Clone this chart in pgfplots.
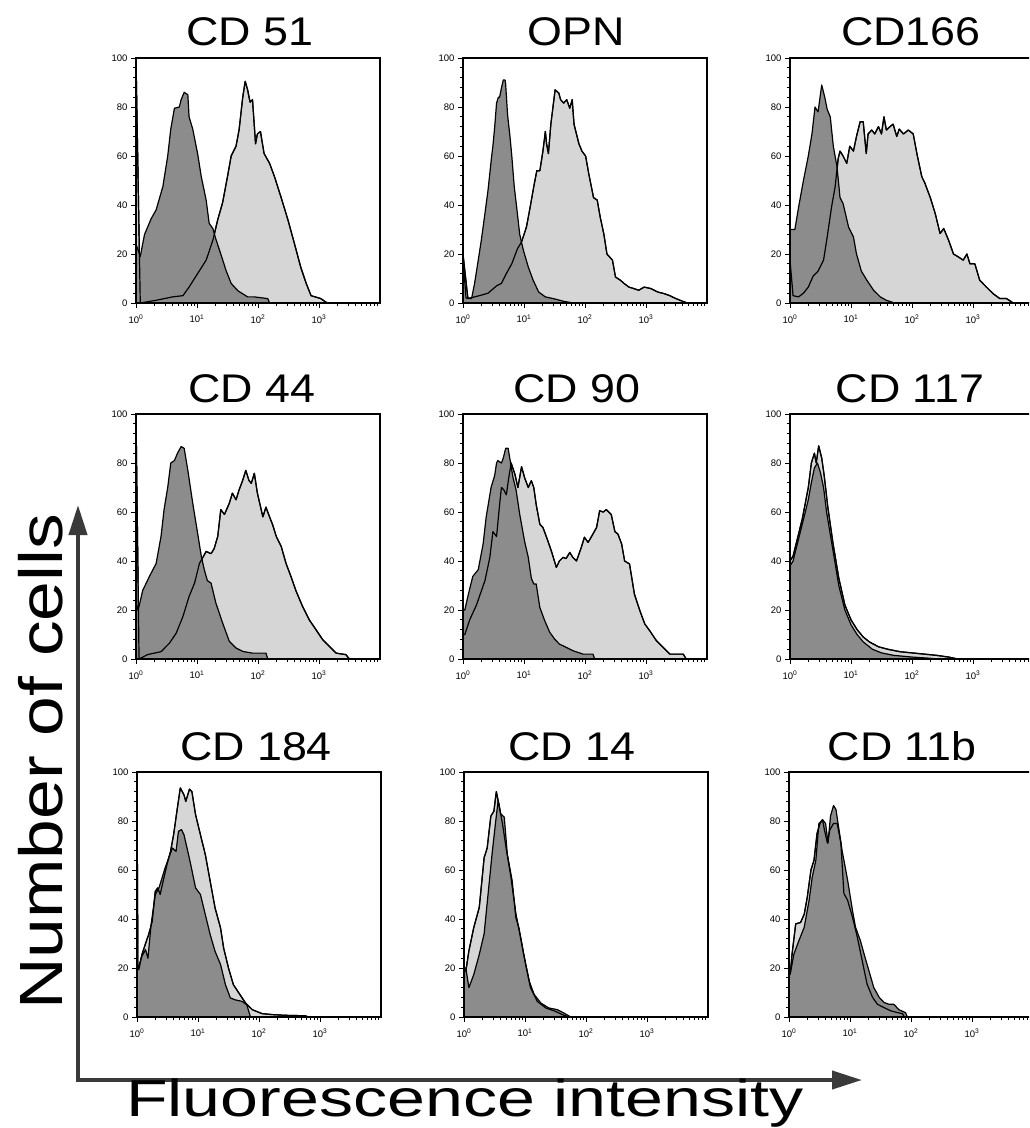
\documentclass[border=0pt]{standalone}
\usepackage{pgfplots}
\pgfplotsset{compat=1.18}
\usepackage{pgfplotstable}
\usepackage{graphicx}
\usepackage{fontspec}
\setmainfont{Liberation Sans}
\usetikzlibrary{arrows.meta}

\definecolor{isofill}{RGB}{140,140,140}
\definecolor{abfill}{RGB}{214,214,214}
\definecolor{arrowgray}{RGB}{58,58,58}

% x: log10 of fluorescence intensity (decades), y: number of cells
\pgfplotstableread{
d y
0 24
0.07 19
0.14 28
0.25 34.5
0.33 38
0.44 47.5
0.52 60
0.57 71
0.63 79.5
0.71 80
0.74 83
0.79 86
0.85 85
0.87 76
0.93 71
1.01 61
1.07 51.6
1.15 42
1.20 32.5
1.26 30.4
1.31 26
1.39 20
1.48 13
1.56 8
1.67 5
1.83 2.5
1.94 2.5
2.16 1.8
2.19 0
}\cdAiso
\pgfplotstableread{
d y
0 100
0.07 0
0.33 1.1
0.60 2.5
0.77 3
0.87 6.5
1.01 12
1.15 17.5
1.26 25.6
1.34 34
1.42 41
1.50 51.6
1.56 60
1.64 64
1.69 70.7
1.75 84
1.79 90.5
1.83 87
1.87 82
1.91 83
1.96 65
1.99 69
2.04 70
2.10 61
2.19 57
2.27 51.6
2.38 43
2.49 34
2.60 24
2.70 14.7
2.79 8
2.87 3
3.03 1.8
3.11 0.4
3.15 0
}\cdAab
\pgfplotstableread{
d y
0 18
0.05 2
0.14 1.8
0.19 8
0.25 17.5
0.30 25.6
0.36 36.6
0.41 46
0.47 60
0.49 64
0.52 72
0.55 81.6
0.58 84
0.60 84
0.63 87.7
0.66 91
0.69 91
0.70 89
0.73 77
0.77 68
0.80 60
0.84 47.5
0.88 39
0.93 28
0.99 21.5
1.07 14.7
1.15 9.3
1.24 4.5
1.35 2.5
1.48 1.8
1.65 0.7
1.81 0
}\cdBiso
\pgfplotstableread{
d y
0 20
0.08 1.8
0.27 3
0.41 4
0.55 7
0.63 8
0.71 12
0.80 16
0.89 22
0.96 25
1.04 31
1.10 39
1.16 47.5
1.21 54
1.26 54
1.31 62
1.35 70
1.37 65
1.40 61
1.44 73
1.47 79
1.51 87
1.57 85.7
1.60 83
1.65 81.6
1.70 83
1.75 79.5
1.79 83
1.82 73
1.90 65
1.95 62
2.01 60
2.06 53
2.14 43
2.20 42
2.25 35
2.31 28
2.36 20
2.45 17.5
2.50 10.6
2.58 9.3
2.64 8
2.72 6.5
2.80 5.9
2.88 5.2
2.97 6.5
3.08 5.9
3.19 4.5
3.30 3.8
3.38 3.1
3.49 1.8
3.60 0.7
3.68 0
}\cdBab
\pgfplotstableread{
d y
0 30
0.08 30
0.14 39
0.22 50
0.30 60
0.36 69
0.41 80
0.46 78
0.52 89
0.57 84
0.61 79
0.66 76
0.71 64
0.77 55.7
0.82 43
0.87 40.6
0.96 31
1.04 27
1.09 20
1.17 13
1.26 9.3
1.37 5.2
1.48 2.5
1.58 1.1
1.67 0.4
1.70 0
}\cdCiso
\pgfplotstableread{
d y
0 17.5
0.05 3
0.14 2.5
0.22 4
0.30 6.5
0.38 11
0.46 13
0.55 17.5
0.61 27
0.68 39
0.74 47.5
0.79 59
0.82 62
0.87 60
0.93 57
0.98 64
1.04 62
1.09 68
1.15 74
1.20 74
1.25 61
1.28 69
1.34 70.6
1.39 69
1.45 72
1.50 69
1.54 76
1.58 70.6
1.64 72
1.69 73
1.75 68
1.79 71
1.86 69
1.94 70.6
2.02 69
2.08 61
2.16 51.6
2.21 49
2.30 43
2.38 36.6
2.46 28.4
2.52 30.4
2.60 25.6
2.68 20
2.76 18.8
2.84 17.5
2.90 20
2.95 16
3.03 16
3.11 9.3
3.22 6.5
3.33 3.8
3.44 1.8
3.55 1.8
3.66 0
}\cdCab
\pgfplotstableread{
d y
0 24
0.03 20
0.05 21.5
0.11 28
0.22 33.7
0.33 39
0.41 50
0.46 61
0.52 70
0.57 80
0.63 81
0.68 84
0.74 86.7
0.79 86
0.85 77
0.93 63.6
1.01 51.4
1.07 42
1.12 36.4
1.17 32
1.23 31
1.31 22.8
1.42 14.7
1.53 7.2
1.64 4.5
1.75 3.1
1.91 2.4
2.13 2.4
2.16 0
}\cdDiso
\pgfplotstableread{
d y
0 100
0.05 0
0.19 1.8
0.41 3
0.55 6.5
0.66 10.6
0.77 17.4
0.87 25.5
0.96 31
1.04 39
1.15 43.9
1.23 43
1.28 45
1.34 50
1.39 61
1.45 59
1.53 63.6
1.58 67.7
1.64 65
1.69 69
1.75 73
1.80 77
1.85 73
1.89 71.7
1.94 75.8
1.99 67.7
2.08 58
2.13 62
2.19 58
2.24 54.8
2.30 50
2.38 46
2.46 39
2.54 33.7
2.62 28
2.73 21.5
2.84 16
2.95 12
3.06 7.9
3.17 5.2
3.28 2.4
3.44 1.8
3.50 0
}\cdDab
\pgfplotstableread{
d y
0 20
0.03 20
0.08 25.6
0.16 33.7
0.25 36.5
0.33 47
0.38 58
0.46 70
0.52 75
0.55 80
0.57 81
0.63 80
0.66 82
0.70 86
0.74 86
0.78 80
0.82 74
0.87 69
0.93 59
1.01 48
1.07 41.5
1.12 33
1.16 30.6
1.20 30.6
1.26 21
1.34 15.6
1.42 11
1.50 8.2
1.58 6.1
1.69 4.8
1.80 3.4
1.97 2
2.13 2
2.16 0
}\cdEiso
\pgfplotstableread{
d y
0 10
0.03 10
0.11 16
0.22 22
0.36 32
0.44 41.5
0.49 52
0.55 50
0.60 63
0.63 70
0.67 69
0.71 67
0.75 74
0.79 80
0.85 75.5
0.90 70
0.96 78.5
1.01 74
1.07 70
1.12 72.8
1.16 70
1.20 63
1.26 55
1.31 53.7
1.37 49.7
1.45 44
1.53 37.4
1.58 40
1.64 41.5
1.69 41
1.75 43.5
1.80 41.5
1.86 40
1.94 45.6
1.99 49.7
2.05 47.6
2.10 49.7
2.19 53.7
2.24 60.5
2.30 60
2.35 61
2.43 59
2.49 52
2.54 51
2.60 47
2.65 40
2.73 38.8
2.81 26.5
2.90 19.7
2.98 14.3
3.06 11.6
3.17 7.5
3.28 4.8
3.39 2
3.61 2
3.66 0
}\cdEab
\pgfplotstableread{
d y
0 38
0.05 40
0.10 45
0.20 55
0.30 65
0.35 72
0.40 78
0.45 80
0.50 76
0.55 70
0.60 60
0.70 45
0.80 30
0.90 20
1.00 14
1.10 10
1.20 7
1.35 4
1.50 2.5
1.70 1.5
2.00 0.8
2.30 0.3
2.40 0
}\cdFiso
\pgfplotstableread{
d y
0 40
0.05 42
0.10 47
0.20 57
0.30 70
0.35 80
0.40 84
0.43 80
0.47 87
0.52 82
0.56 75
0.62 62
0.70 48
0.80 33
0.90 22
1.00 16
1.10 12
1.20 9
1.30 7
1.45 5
1.60 4
1.80 3
2.00 2.5
2.20 2
2.40 1.5
2.60 0.8
2.75 0
}\cdFab
\pgfplotstableread{
d y
0 20
0.02 20
0.08 24.8
0.14 27.5
0.18 24
0.23 37.6
0.30 50
0.36 52.7
0.41 56.7
0.46 60.8
0.52 65
0.58 69
0.64 67.6
0.68 75.8
0.73 76.5
0.77 74.4
0.82 69
0.87 63.5
0.96 52.7
1.04 50
1.12 41.8
1.20 33.6
1.28 26.8
1.37 21.4
1.45 13.2
1.53 7.8
1.61 7
1.72 6.4
1.80 5
1.86 0
}\cdGiso
\pgfplotstableread{
d y
0 95
0.015 20
0.03 19.3
0.08 25.4
0.14 30
0.19 33.6
0.25 39
0.30 51.3
0.34 52.7
0.38 50
0.44 56.7
0.49 62
0.55 67.6
0.60 74.4
0.66 85
0.71 93.5
0.77 90.7
0.80 88
0.86 93
0.90 92
0.96 82.6
1.04 74.4
1.12 66.3
1.20 55.4
1.28 44.5
1.37 36.3
1.42 28.2
1.50 20
1.58 13.2
1.67 9.8
1.78 5.7
1.89 3
2.05 1.4
2.21 1
2.43 0.7
2.76 0.5
2.81 0
}\cdGab
\pgfplotstableread{
d y
0 20
0.03 20
0.08 12
0.16 17.3
0.25 25.5
0.33 34
0.41 54
0.46 66.5
0.52 80
0.56 88.4
0.60 83
0.66 81.6
0.71 66.5
0.79 55.6
0.85 40.6
0.90 36.5
0.98 25.5
1.07 14.6
1.15 9.2
1.26 5.7
1.39 3.7
1.53 3
1.64 1.6
1.75 0
}\cdHiso
\pgfplotstableread{
d y
0 18.7
0.03 18.7
0.08 27
0.16 36.5
0.25 44.7
0.33 65
0.38 69
0.44 82
0.49 84
0.53 92
0.57 87
0.63 79
0.69 69
0.77 57
0.85 42
0.93 32
1.01 21.4
1.09 12
1.20 6.4
1.34 3.7
1.50 2.3
1.61 1
1.72 0
}\cdHab
\pgfplotstableread{
d y
0 17.5
0.02 17.5
0.08 25.7
0.16 31
0.25 36.7
0.33 47.7
0.38 57
0.44 64
0.49 79
0.55 80.5
0.60 79
0.64 71
0.68 82
0.73 86.3
0.77 84.7
0.82 76.4
0.87 68
0.96 56
1.04 43.6
1.09 36.7
1.17 31.2
1.23 25.8
1.31 18.9
1.39 12
1.48 8
1.56 5.9
1.64 5.2
1.72 5.2
1.80 3
1.91 1.8
1.94 0
}\cdIiso
\pgfplotstableread{
d y
0 17.5
0.02 17.5
0.05 25.7
0.11 38
0.19 38.6
0.25 42
0.30 49
0.36 60
0.41 64
0.46 75
0.51 79
0.55 80.5
0.58 76.4
0.63 71
0.67 76.4
0.73 79
0.79 79
0.85 71
0.90 50.4
0.96 47.7
1.04 40.8
1.12 32.6
1.20 23
1.28 13.4
1.37 8
1.45 5.2
1.56 3.8
1.67 2.5
1.78 1.8
1.86 1.4
1.89 0
}\cdIab

\pgfplotsset{
  histpanel/.style={
    scale only axis, width=244pt, height=245pt,
    anchor=north west,
    xmin=0, xmax=4, ymin=0, ymax=100,
    axis on top,
    tick align=outside, xtick pos=bottom, ytick pos=left,
    xtick={0,1,2,3},
    xticklabels={10\textsuperscript{0},10\textsuperscript{1},10\textsuperscript{2},10\textsuperscript{3}},
    minor xtick={0.301,0.477,0.602,0.699,0.778,0.845,0.903,0.954,
                 1.301,1.477,1.602,1.699,1.778,1.845,1.903,1.954,
                 2.301,2.477,2.602,2.699,2.778,2.845,2.903,2.954,
                 3.301,3.477,3.602,3.699,3.778,3.845,3.903,3.954},
    ytick={0,20,40,60,80,100}, minor y tick num=4,
    major tick length=5pt, minor tick length=3pt,
    tick style={black, line width=0.8pt},
    axis line style={line width=1.6pt},
    ticklabel style={font=\fontsize{9.5}{10}\selectfont},
    /pgf/number format/assume math mode=true,
    xticklabel style={yshift=-3pt},
  },
  abhist/.style={fill=abfill, draw=black, line width=1.2pt, line join=round},
  isohist/.style={fill=isofill, draw=black, line width=1.2pt, line join=round},
  aboutline/.style={draw=black, line width=1.2pt, line join=round, fill=none},
}

% one histogram overlay: left, top, antibody table, isotype table
\newcommand{\histpanel}[4]{%
  \begin{axis}[histpanel, at={(#1pt,-#2pt)}]
    \addplot[abhist] table[x=d, y=y] {#3} \closedcycle;
    \addplot[isohist] table[x=d, y=y] {#4} \closedcycle;
    \addplot[aboutline] table[x=d, y=y] {#3};
  \end{axis}}

\newcommand{\paneltitle}[3]{%
  \node[anchor=base] at (#1pt,-#2pt) {\fontsize{40}{40}\selectfont\scalebox{1.12}[1]{#3}};}

\begin{document}
\begin{tikzpicture}[x=1pt, y=1pt]
\useasboundingbox (0,0) rectangle (1029,-1128);
\clip (0,0) rectangle (1029,-1128);

\histpanel{136}{58}{\cdAab}{\cdAiso}
\histpanel{463}{58}{\cdBab}{\cdBiso}
\histpanel{790}{58}{\cdCab}{\cdCiso}
\histpanel{136}{414}{\cdDab}{\cdDiso}
\histpanel{463}{414}{\cdEab}{\cdEiso}
\histpanel{790}{414}{\cdFab}{\cdFiso}
\histpanel{137}{772}{\cdGab}{\cdGiso}
\histpanel{464}{772}{\cdHab}{\cdHiso}
\histpanel{789}{772}{\cdIab}{\cdIiso}

\paneltitle{250}{45}{CD 51}
\paneltitle{576}{45}{OPN}
\paneltitle{911}{45}{CD166}
\paneltitle{252}{402}{CD 44}
\paneltitle{577}{402}{CD 90}
\paneltitle{910}{402}{CD 117}
\paneltitle{256}{760}{CD 184}
\paneltitle{572}{760}{CD 14}
\paneltitle{902}{760}{CD 11b}

% overall axes
\draw[arrowgray, line width=4pt, line join=miter,
      {Triangle[length=30pt,width=18pt]}-{Triangle[length=30pt,width=18pt]}]
  (78,-505) -- (78,-1080) -- (862,-1080);
\node[rotate=90, anchor=base] at (62,-762)
  {\fontsize{61}{61}\selectfont\scalebox{1.17}[1]{Number of cells}};
\node[anchor=base] at (465,-1116)
  {\fontsize{52}{52}\selectfont\scalebox{1.31}[1]{Fluorescence intensity}};
\end{tikzpicture}
\end{document}
